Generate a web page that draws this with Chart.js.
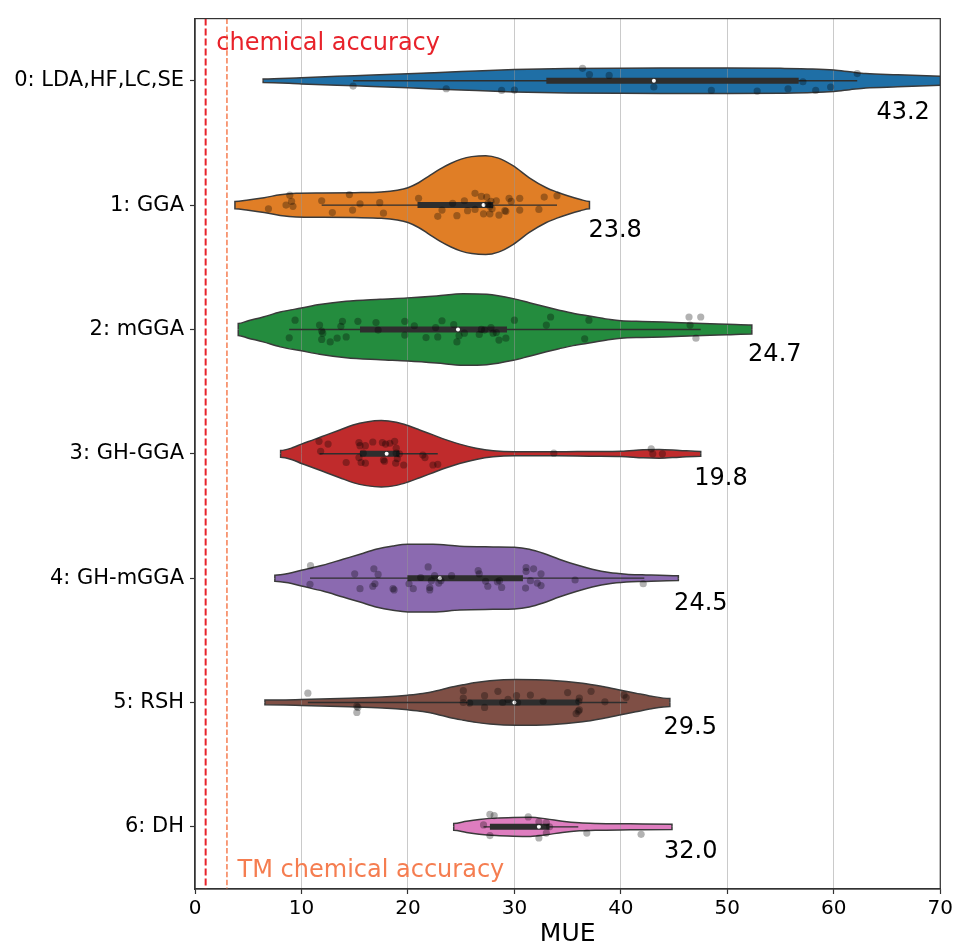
<!DOCTYPE html>
<html>
<head>
<meta charset="utf-8">
<script src="https://cdn.jsdelivr.net/npm/chart.js@4.4.1/dist/chart.umd.min.js"></script>
<style>
  html, body { margin: 0; padding: 0; background: #ffffff; }
  canvas { display: block; }
</style>
</head>
<body>
<canvas id="chart" width="956" height="947"></canvas>
<script>
// ---- data -------------------------------------------------------------
const categories = ['0: LDA,HF,LC,SE', '1: GGA', '2: mGGA', '3: GH-GGA', '4: GH-mGGA', '5: RSH', '6: DH'];
const meanMUE = [43.2, 23.8, 24.7, 19.8, 24.5, 29.5, 32.0];

// inner box plot statistics (MUE)
const whiskerLow  = [14.85, 11.9, 8.85, 11.7, 10.8, 10.6, 27.1];
const boxQ1       = [33.0, 20.9, 15.5, 15.5, 19.95, 25.6, 27.7];
const medianMUE   = [43.1, 27.1, 24.7, 18.0, 23.0, 30.0, 32.3];
const boxQ3       = [56.7, 28.0, 29.3, 19.2, 30.8, 36.1, 33.3];
const whiskerHigh = [62.2, 34.0, 47.5, 22.8, 42.2, 40.6, 36.0];

// violin outlines: MUE grid and half-width of the density (category units)
const violinGrid0 = [6.4, 10, 15, 20, 25, 30, 35, 40, 45, 50, 55, 58, 60, 61.5, 63, 66, 70, 74, 77];
const violinHalf0 = [0.014, 0.025, 0.041, 0.057, 0.074, 0.09, 0.098, 0.101, 0.102, 0.103, 0.1, 0.095, 0.086, 0.072, 0.058, 0.049, 0.037, 0.024, 0.012];
const violinGrid1 = [3.75, 5, 6.5, 8, 9.5, 12, 15, 17.5, 19, 20, 21, 22, 23, 24, 25, 26, 27.3, 28.5, 29.9, 31.4, 33, 34, 35, 36.2, 37.05];
const violinHalf1 = [0.03, 0.042, 0.06, 0.083, 0.095, 0.097, 0.1, 0.106, 0.12, 0.14, 0.18, 0.235, 0.29, 0.335, 0.37, 0.39, 0.398, 0.378, 0.315, 0.22, 0.14, 0.105, 0.075, 0.045, 0.03];
const violinGrid2 = [4.06, 5, 6.4, 8, 10, 11.7, 14.2, 17.4, 20, 22.7, 25.2, 27.4, 29.9, 31.4, 33, 34.2, 35.5, 37.3, 39, 40, 42, 44, 47, 50, 52.3];
const violinHalf2 = [0.048, 0.07, 0.1, 0.14, 0.172, 0.2, 0.227, 0.243, 0.254, 0.27, 0.288, 0.283, 0.248, 0.215, 0.18, 0.155, 0.13, 0.105, 0.08, 0.07, 0.064, 0.06, 0.05, 0.042, 0.036];
const violinGrid3 = [8.04, 9.2, 10, 11.1, 12.35, 13.6, 14.85, 16.1, 17.5, 18.9, 20, 21.1, 22.35, 23.6, 24.85, 26.4, 28, 30, 34, 37.3, 40, 42.1, 43.6, 45.5, 47.5];
const violinHalf3 = [0.027, 0.05, 0.078, 0.112, 0.152, 0.192, 0.232, 0.256, 0.267, 0.254, 0.227, 0.192, 0.152, 0.112, 0.078, 0.045, 0.024, 0.016, 0.016, 0.019, 0.021, 0.032, 0.035, 0.027, 0.019];
const violinGrid4 = [7.5, 8.75, 10, 12, 13.9, 15.5, 17, 18.6, 20, 22.35, 24.85, 28, 30, 31.4, 32.7, 34.2, 35.8, 37.3, 38.9, 40.5, 42, 45.4];
const violinHalf4 = [0.024, 0.037, 0.064, 0.104, 0.152, 0.192, 0.232, 0.259, 0.272, 0.272, 0.256, 0.251, 0.248, 0.232, 0.2, 0.152, 0.107, 0.072, 0.045, 0.032, 0.027, 0.019];
const violinGrid5 = [6.57, 10, 14.5, 17.6, 20, 21.4, 22.7, 23.9, 25.2, 26.4, 27.7, 30.2, 33.3, 36.4, 38.3, 40, 41.4, 42.7, 44.6];
const violinHalf5 = [0.019, 0.024, 0.035, 0.045, 0.059, 0.072, 0.094, 0.12, 0.142, 0.16, 0.174, 0.184, 0.179, 0.155, 0.128, 0.099, 0.075, 0.053, 0.032];
const violinGrid6 = [24.3, 25.5, 26.7, 28.3, 29.9, 31.5, 33, 34.5, 36.1, 37.7, 40.9, 44.8];
const violinHalf6 = [0.027, 0.045, 0.059, 0.07, 0.075, 0.077, 0.064, 0.045, 0.032, 0.027, 0.024, 0.021];

// individual functionals: [MUE, vertical jitter in category units]
const strip0 = [[14.85,0.043],[23.6,0.064],[28.8,0.078],[30.0,0.075],[36.4,-0.1],[37.05,-0.05],[38.9,-0.043],[43.1,0.05],[48.5,0.078],[52.8,0.083],[55.7,0.064],[57.1,0.008],[58.3,0.078],[59.7,0.05],[62.2,-0.058]];
const strip1 = [[6.9,0.03],[8.55,0],[8.9,-0.08],[9.07,-0.03],[9.2,0.01],[11.9,-0.035],[12.9,0.06],[14.5,-0.085],[14.8,0.04],[15.5,-0.01],[17.35,-0.02],[17.7,0.065],[21.0,-0.055],[22.8,0.09],[23.2,0.04],[24.2,-0.015],[24.6,0.085],[25.3,-0.035],[25.6,0.045],[26.3,-0.095],[26.3,0.035],[26.9,-0.07],[27.1,0.07],[27.4,-0.065],[27.5,-0.01],[27.7,0.01],[27.8,-0.03],[27.9,0.03],[27.7,0.07],[28.3,-0.035],[28.55,0.08],[29.1,0.045],[29.2,0.05],[29.5,-0.055],[29.7,-0.03],[30.5,-0.055],[30.5,0.04],[32.3,0.035],[32.8,-0.065],[34.0,-0.075]];
const strip2 = [[8.85,0.067],[9.4,-0.075],[11.7,-0.035],[11.9,0.013],[12.0,0.03],[11.9,0.08],[12.7,0.1],[13.35,0.07],[13.7,-0.025],[13.85,-0.065],[14.2,0.06],[15.3,-0.065],[17.0,-0.055],[17.2,0.005],[19.7,-0.065],[19.7,0.045],[20.6,-0.03],[21.7,0.065],[22.6,-0.015],[22.8,0.06],[23.2,-0.07],[24.3,-0.04],[24.6,0.1],[24.8,0.05],[25.3,0.03],[26.7,0.04],[26.9,0],[27.2,0.005],[27.8,-0.015],[28.0,0.03],[28.3,0.025],[28.55,0.085],[29.2,0.07],[30.0,-0.075],[33.0,-0.035],[33.4,-0.1],[36.6,0.075],[37.0,-0.075],[46.4,-0.1],[47.5,-0.1],[46.5,-0.035],[47.05,0.07]];
const strip3 = [[11.65,-0.1],[12.5,-0.078],[11.8,-0.02],[14.2,0.07],[15.4,-0.09],[15.5,-0.065],[15.8,-0.005],[16.0,-0.065],[15.4,0.03],[15.6,0.07],[16.0,0.075],[16.7,-0.095],[17.6,-0.09],[17.9,-0.078],[18.3,-0.085],[17.7,0.05],[17.8,0.06],[18.75,-0.1],[18.9,-0.045],[18.9,-0.005],[19.0,0.04],[18.85,0.075],[19.2,0],[19.6,0.09],[21.4,0.01],[21.6,0.03],[22.35,0.09],[22.8,0.085],[33.7,-0.005],[42.85,-0.04],[43.0,0],[43.9,0]];
const strip4 = [[10.85,-0.1],[10.8,0.05],[15.0,-0.035],[15.5,0.085],[16.8,-0.075],[17.2,-0.03],[16.9,0.045],[16.7,0.065],[18.6,0.085],[18.7,0.095],[20.1,0.045],[20.5,0.085],[21.2,-0.005],[21.9,-0.09],[22.05,0.075],[22.05,0.095],[22.2,0.02],[22.5,-0.02],[22.9,0.04],[23.1,0.02],[24.1,-0.02],[26.6,-0.06],[26.7,-0.035],[27.3,0.025],[27.5,0.065],[28.4,0.03],[28.6,0.02],[28.8,0.075],[31.1,-0.085],[31.1,-0.055],[31.8,-0.075],[32.5,-0.035],[31.5,0.02],[32.15,0.04],[32.5,0.06],[31.05,0.08],[35.7,0.015],[42.1,0.045]];
const strip5 = [[10.6,-0.075],[15.2,0.03],[15.3,0.04],[15.2,0.08],[25.2,-0.095],[25.2,-0.035],[25.2,0],[25.8,0.005],[27.2,-0.055],[27.2,0.04],[28.45,-0.09],[28.9,0],[29.4,-0.025],[30.2,-0.055],[30.3,0],[31.5,-0.06],[32.7,-0.01],[35.0,-0.08],[36.1,-0.035],[36.05,-0.01],[36.0,0.07],[36.1,0.06],[35.8,0.09],[37.2,-0.09],[38.5,-0.005],[40.3,-0.06],[40.5,-0.04]];
const strip6 = [[27.7,-0.1],[28.1,-0.09],[27.1,-0.015],[27.7,0.07],[31.3,-0.08],[32.3,-0.04],[32.3,0.09],[33.0,-0.035],[33.0,0.05],[33.3,0],[36.8,0.05],[41.9,0.06]];

// reference thresholds (MUE)
const chemicalAccuracy = 1.0;
const tmChemicalAccuracy = 3.0;
const xTickValues = [0, 10, 20, 30, 40, 50, 60, 70];

// where each mean label sits: [MUE, offset below the category]
const meanLabelAt = [[64.0, 0.31], [36.95, 0.257], [51.95, 0.25], [46.9, 0.247], [45.0, 0.254], [44.0, 0.25], [44.05, 0.252]];

// ---- styling ----------------------------------------------------------
const FONT = '"DejaVu Sans", "Liberation Sans", sans-serif';
const violinColors = ['#1f6fa6', '#e07e26', '#248c3e', '#c02b2c', '#8b6ab0', '#7f4f45', '#de7dbf'];
const edgeColor = '#3a3a3a';
const innerColor = '#2e2e2e';
const spineColor = '#333333';
const red = '#e8222a';
const coral = '#f57d50';

const violinGrids = [violinGrid0, violinGrid1, violinGrid2, violinGrid3, violinGrid4, violinGrid5, violinGrid6];
const violinHalves = [violinHalf0, violinHalf1, violinHalf2, violinHalf3, violinHalf4, violinHalf5, violinHalf6];
const strips = [strip0, strip1, strip2, strip3, strip4, strip5, strip6];

const datasets = [];

// violins: upper edge filled down to the lower edge
categories.forEach((_, i) => {
  const g = violinGrids[i], h = violinHalves[i];
  const first = g[0], last = g[g.length - 1];
  const upper = [{x: first, y: i}].concat(g.map((x, k) => ({x, y: i - h[k]})), [{x: last, y: i}]);
  const lower = [{x: first, y: i}].concat(g.map((x, k) => ({x, y: i + h[k]})), [{x: last, y: i}]);
  const common = {
    showLine: true, pointRadius: 0, borderColor: edgeColor, borderWidth: 1.5,
    cubicInterpolationMode: 'monotone', order: 4, backgroundColor: violinColors[i]
  };
  datasets.push(Object.assign({label: categories[i] + ' upper', data: upper, fill: '+1'}, common));
  datasets.push(Object.assign({label: categories[i] + ' lower', data: lower, fill: false}, common));
});

// whiskers and boxes
categories.forEach((_, i) => {
  datasets.push({
    label: 'whisker ' + i, data: [{x: whiskerLow[i], y: i}, {x: whiskerHigh[i], y: i}],
    showLine: true, pointRadius: 0, borderColor: innerColor, borderWidth: 1.4, fill: false, order: 3
  });
  datasets.push({
    label: 'box ' + i, data: [{x: boxQ1[i], y: i}, {x: boxQ3[i], y: i}],
    showLine: true, pointRadius: 0, borderColor: innerColor, borderWidth: 6,
    borderCapStyle: 'butt', fill: false, order: 2
  });
});

// medians
datasets.push({
  label: 'median', data: medianMUE.map((x, i) => ({x, y: i})),
  showLine: false, pointRadius: 2, pointBackgroundColor: '#ffffff', pointBorderWidth: 0, order: 1
});

// individual points
strips.forEach((s, i) => {
  datasets.push({
    label: 'points ' + i, data: s.map(p => ({x: p[0], y: i + p[1]})),
    showLine: false, pointRadius: 3.6, pointBackgroundColor: 'rgba(0,0,0,0.3)',
    pointBorderWidth: 0, order: 0
  });
});

// accuracy thresholds
datasets.push({
  label: 'chemical accuracy', data: [{x: chemicalAccuracy, y: -0.5}, {x: chemicalAccuracy, y: 6.5}],
  showLine: true, pointRadius: 0, borderColor: red, borderWidth: 2, borderDash: [7, 3], fill: false, order: 5
});
datasets.push({
  label: 'TM chemical accuracy', data: [{x: tmChemicalAccuracy, y: -0.5}, {x: tmChemicalAccuracy, y: 6.5}],
  showLine: true, pointRadius: 0, borderColor: coral, borderWidth: 1.5, borderDash: [5.5, 2.4], fill: false, order: 5
});

// text annotations and the closing frame of the axes
const annotations = {
  id: 'annotations',
  afterDatasetsDraw(chart) {
    const {ctx, chartArea: a, scales: {x, y}} = chart;
    ctx.save();
    ctx.textAlign = 'left';
    ctx.textBaseline = 'alphabetic';
    ctx.font = '24px ' + FONT;
    ctx.fillStyle = '#000000';
    meanMUE.forEach((m, i) => {
      const at = meanLabelAt[i];
      ctx.fillText(m.toFixed(1), x.getPixelForValue(at[0]), y.getPixelForValue(i + at[1]));
    });
    ctx.fillStyle = red;
    ctx.fillText('chemical accuracy', x.getPixelForValue(chemicalAccuracy + 1), y.getPixelForValue(-0.25));
    ctx.fillStyle = coral;
    ctx.fillText('TM chemical accuracy', x.getPixelForValue(tmChemicalAccuracy + 1), y.getPixelForValue(6.4));
    ctx.strokeStyle = spineColor;
    ctx.lineWidth = 1.2;
    ctx.strokeRect(a.left, a.top, a.right - a.left, a.bottom - a.top);
    ctx.restore();
  }
};

new Chart(document.getElementById('chart'), {
  type: 'line',
  data: {datasets},
  plugins: [annotations],
  options: {
    responsive: false,
    animation: false,
    events: [],
    layout: {padding: {top: 16, right: 15, left: 0, bottom: 0}},
    plugins: {
      legend: {display: false},
      tooltip: {enabled: false},
      filler: {drawTime: 'beforeDraw'}
    },
    scales: {
      x: {
        type: 'linear', min: 0, max: 70,
        afterBuildTicks: s => { s.ticks = xTickValues.map(v => ({value: v})); },
        afterFit: s => { s.height = 58; },
        ticks: {font: {family: FONT, size: 20}, color: '#000', padding: 3, maxRotation: 0, autoSkip: false},
        grid: {color: 'rgba(150,150,150,0.5)', lineWidth: 1, tickColor: spineColor, tickLength: 5, tickWidth: 1.2},
        border: {color: spineColor, width: 1.2},
        title: {display: true, text: 'MUE', color: '#000', font: {family: FONT, size: 25, lineHeight: 1}, padding: {top: 0, bottom: 0}}
      },
      y: {
        type: 'linear', reverse: true, min: -0.5, max: 6.5,
        afterBuildTicks: s => { s.ticks = categories.map((_, i) => ({value: i})); },
        afterFit: s => { s.width = 195; },
        ticks: {
          font: {family: FONT, size: 21}, color: '#000', padding: 6, autoSkip: false,
          callback: v => categories[Math.round(v)]
        },
        grid: {drawOnChartArea: false, tickColor: spineColor, tickLength: 5, tickWidth: 1.2},
        border: {color: spineColor, width: 1.2}
      }
    }
  }
});
</script>
</body>
</html>
